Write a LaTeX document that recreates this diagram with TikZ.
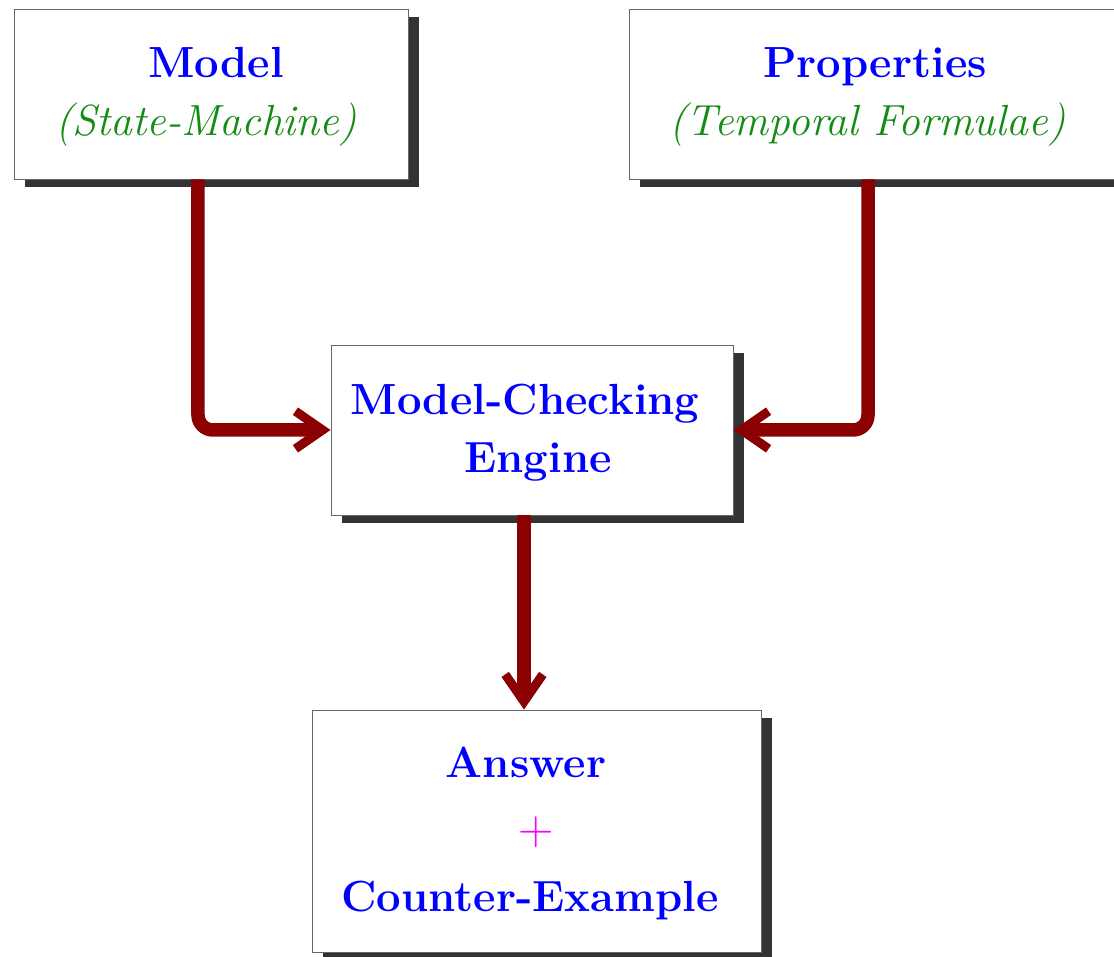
\documentclass[tikz,border=0pt]{standalone}
\usetikzlibrary{shadows,arrows.meta}
\definecolor{arrowred}{RGB}{139,0,0}
\definecolor{subgreen}{RGB}{20,140,20}
\definecolor{plusmag}{RGB}{255,0,255}
\newcommand{\ttl}[1]{\textcolor{blue}{\bfseries #1}}
\newcommand{\sub}[1]{\textcolor{subgreen}{\itshape #1}}
\newcommand{\topstrut}{\rule{0pt}{0.9cm}}
\begin{document}
\begin{tikzpicture}[x=0.025cm,y=-0.025cm,
  box/.style={rectangle, draw=black!60, line width=0.6pt, fill=white,
    align=center, inner sep=0pt,
    font=\fontsize{31}{41.5}\selectfont,
    drop shadow={shadow xshift=0.27cm, shadow yshift=-0.2cm,
      fill=black!80, opacity=1}},
  flow/.style={draw=arrowred, line width=9.6pt, rounded corners=0.375cm,
    -{Straight Barb[sharp, length=0.68cm, width=0.94cm, line width=6.4pt]}}]

\useasboundingbox (0,0) rectangle (1114,957);

% input boxes
\node[box, minimum width=9.85cm, minimum height=4.25cm] (model) at (211,94)
  {\topstrut\hspace*{0.25cm}\ttl{Model}\\ \sub{(State-Machine)}\hspace*{0.25cm}};
\node[box, minimum width=12.175cm, minimum height=4.25cm] (props) at (872.5,94)
  {\topstrut\hspace*{0.125cm}\ttl{Properties}\\ \sub{(Temporal Formulae)}\hspace*{0.25cm}};

% checker
\node[box, minimum width=10.05cm, minimum height=4.25cm] (engine) at (532,430)
  {\topstrut\ttl{Model-Checking}\hspace*{0.35cm}\\ \hspace*{0.3cm}\ttl{Engine}};

% result
\node[box, minimum width=11.225cm, minimum height=6.05cm,
  font=\fontsize{31}{47.5}\selectfont] (answer) at (536.5,831)
  {\topstrut\ttl{Answer}\hspace*{0.525cm}\\
   {\fontsize{35}{47.5}\selectfont\textcolor{plusmag}{+}}\hspace*{0.275cm}\\
   \ttl{Counter-Example}\hspace*{0.325cm}};

% connectors
\draw[flow] ([xshift=-0.325cm]model.south) |- (engine.west);
\draw[flow] ([xshift=-0.1125cm]props.south) |- (engine.east);
\coordinate (down) at ([xshift=-0.2cm]engine.south);
\draw[flow] (down) -- (down |- answer.north);
\end{tikzpicture}
\end{document}
